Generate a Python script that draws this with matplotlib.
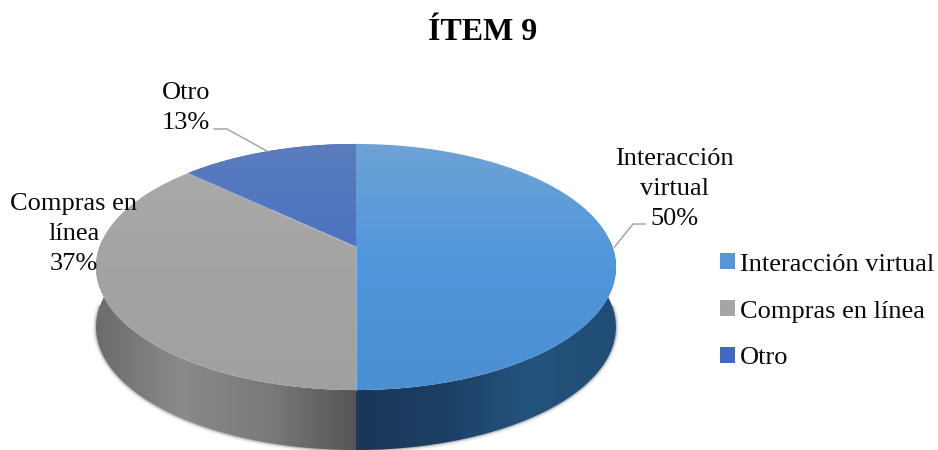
import numpy as np
import matplotlib
matplotlib.use("Agg")
import matplotlib.pyplot as plt
from matplotlib.colors import LinearSegmentedColormap
from matplotlib.patches import Patch, Polygon

categories = ["Interacción virtual", "Compras en línea", "Otro"]
values = [50, 37, 13]
point_labels = ["Interacción\nvirtual\n50%", "Compras en\nlínea\n37%", "Otro\n13%"]
title = "ÍTEM 9"

swatch_colors = ["#5596d6", "#a5a5a5", "#4069c0"]
top_stops = [
    ["#6ea3d6", "#4f96dc", "#4a8fd2"],
    ["#ababab", "#a4a4a4", "#a0a0a0"],
    ["#5a7dbd", "#4a70c2", "#3560c8"],
]
side_stops = [
    ["#1a3658", "#1c4064", "#24537e", "#1f4c74"],
    ["#6a6a6a", "#8a8a8a", "#7a7a7a", "#555555"],
    ["#2f4f90", "#2f4f90"],
]

# Geometry of the tilted disc, in figure pixels
CX, CY = 356.0, 247.0
RX, RY, PERSP = 256.5, 119.8, 0.1626
DEPTH = 60.0


def rim(theta):
    """Project angles (clockwise from 12 o'clock) onto the tilted top face."""
    u, v = np.sin(theta), np.cos(theta)
    w = 1 + PERSP * v
    return CX + RX * u / w, CY - RY * v / w


def gradient(ax, stops, clip, extent, horizontal, z):
    cmap = LinearSegmentedColormap.from_list("g", stops)
    ramp = np.linspace(0, 1, 256)
    ramp = ramp[None, :] if horizontal else ramp[:, None]
    im = ax.imshow(ramp, cmap=cmap, extent=extent, aspect="auto",
                   origin="upper", zorder=z, interpolation="bilinear")
    im.set_clip_path(clip)


plt.rcParams["font.family"] = ["Liberation Serif", "DejaVu Serif"]
fig = plt.figure(figsize=(9.38, 4.5), dpi=100, facecolor="white")
ax = fig.add_axes([0, 0, 1, 1])

fractions = np.array(values) / sum(values)
edges = np.concatenate([[0], np.cumsum(fractions)]) * 2 * np.pi

# Soft contact edge under the side wall
t_all = np.linspace(np.pi / 2, 3 * np.pi / 2, 200)
xs, ys = rim(t_all)
for lw, a in [(5, 0.05), (3.2, 0.10), (1.6, 0.2)]:
    ax.plot(xs, ys + DEPTH, color="#333333", lw=lw, alpha=a, zorder=1,
            solid_capstyle="round")

# Side walls first, top faces over them
side_extents = [(356, 618, 455, 240), (92, 356, 455, 240), (180, 356, 300, 140)]
for i in range(len(values)):
    t = np.linspace(edges[i], edges[i + 1], 200)
    x, y = rim(t)
    wall = Polygon(np.r_[np.c_[x, y], np.c_[x, y + DEPTH][::-1]],
                   closed=True, transform=ax.transData, fc="none", ec="none")
    ax.add_patch(wall)
    gradient(ax, side_stops[i], wall, side_extents[i], True, 2)

for i in range(len(values)):
    t = np.linspace(edges[i], edges[i + 1], 200)
    x, y = rim(t)
    face = Polygon(np.r_[[[CX, CY]], np.c_[x, y]], closed=True,
                   transform=ax.transData, fc="none", ec="none")
    ax.add_patch(face)
    gradient(ax, top_stops[i], face, (90, 620, 392, 142), False, 3)

# Pale seams between the slices
for e in edges[1:3]:
    x, y = rim(e)
    ax.plot([CX, x], [CY, y], color="#c8d0dc", lw=0.9, alpha=0.5, zorder=4)

# Leader lines run to the mid-angle of their slice
mids = (edges[:-1] + edges[1:]) / 2
mx, my = rim(mids[0])
ax.plot([mx + 2, 633, 645], [my, 224, 224], color="#a6a6a6", lw=1.1, zorder=4)
mx, my = rim(mids[2])
ax.plot([214, 227, mx], [129, 129, my], color="#a6a6a6", lw=1.1, zorder=4)

LABEL_SIZE = 19
label_xy = [(674, 189), (74, 234), (186, 108)]
for text, (lx, ly) in zip(point_labels, label_xy):
    ax.text(lx, ly, text, ha="center", va="center", fontsize=LABEL_SIZE,
            linespacing=1.47, color="#0a0a0a", zorder=5)

ax.text(483, 32, title, ha="center", va="center", fontsize=23,
        fontweight="bold", color="black")

handles = [Patch(fc=c, ec="none") for c in swatch_colors]
ax.legend(handles, categories, loc="upper left", bbox_to_anchor=(715 / 938, 1 - 248 / 450),
          frameon=False, fontsize=LABEL_SIZE, handlelength=0.56, handleheight=0.56,
          handletextpad=0.2, labelspacing=0.93, borderaxespad=0, borderpad=0.2,
          labelcolor="#0a0a0a")

ax.set_xlim(0, 938)
ax.set_ylim(450, 0)
ax.axis("off")
fig.savefig("out.png", dpi=100, facecolor="white")
